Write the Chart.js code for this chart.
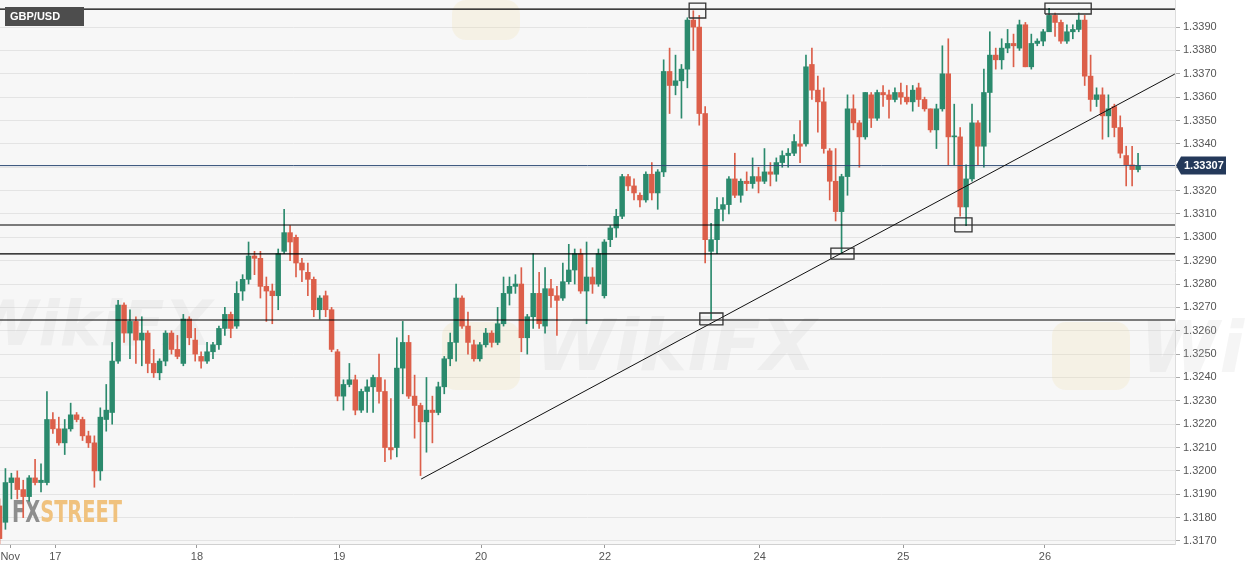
<!DOCTYPE html>
<html>
<head>
<meta charset="utf-8">
<script src="https://cdn.jsdelivr.net/npm/chart.js@4.4.0/dist/chart.umd.min.js"></script>
<style>
  html, body { margin: 0; padding: 0; background: #ffffff; }
  #wrap { width: 1245px; height: 568px; position: relative; }
</style>
</head>
<body>
<div id="wrap"><canvas id="chart"></canvas></div>
<script>
// GBP/USD hourly candles, Nov 16 - Nov 26
const opens = [
  1.3185,1.3178,1.3195,1.3197,1.3192,1.3189,1.3197,1.3195,1.3195,1.3222,
  1.3218,1.3212,1.3218,1.3224,1.3222,1.3215,1.3212,1.3200,1.3222,1.3225,
  1.3247,1.3271,1.3259,1.3264,1.3256,1.3259,1.3246,1.3242,1.3247,1.3259,
  1.3252,1.3246,1.3265,1.3256,1.3249,1.3247,1.3251,1.3254,1.3261,1.3267,
  1.3262,1.3277,1.3282,1.3292,1.3291,1.3279,1.3277,1.3275,1.3294,1.3302,
  1.3300,1.3289,1.3285,1.3282,1.3269,1.3275,1.3269,1.3251,1.3232,1.3237,
  1.3239,1.3226,1.3234,1.3236,1.3240,1.3234,1.3210,1.3210,1.3244,1.3255,
  1.3232,1.3228,1.3221,1.3226,1.3225,1.3236,1.3248,1.3255,1.3274,1.3262,
  1.3254,1.3248,1.3254,1.3259,1.3255,1.3263,1.3276,1.3279,1.3280,1.3257,
  1.3266,1.3276,1.3262,1.3278,1.3275,1.3274,1.3281,1.3286,1.3293,1.3277,
  1.3283,1.3280,1.3275,1.3299,1.3304,1.3309,1.3326,1.3322,1.3318,1.3316,
  1.3327,1.3319,1.3328,1.3371,1.3365,1.3367,1.3372,1.3393,1.3390,1.3353,
  1.3294,1.3299,1.3312,1.3314,1.3325,1.3318,1.3324,1.3323,1.3326,1.3324,
  1.3328,1.3327,1.3332,1.3335,1.3336,1.3340,1.3340,1.3374,1.3363,1.3358,
  1.3337,1.3324,1.3311,1.3326,1.3355,1.3349,1.3343,1.3361,1.3351,1.3362,
  1.3361,1.3359,1.3362,1.3360,1.3358,1.3364,1.3359,1.3355,1.3346,1.3355,
  1.3370,1.3343,1.3343,1.3313,1.3325,1.3349,1.3339,1.3362,1.3378,1.3376,
  1.3381,1.3383,1.3381,1.3391,1.3373,1.3383,1.3384,1.3388,1.3395,1.3392,
  1.3384,1.3388,1.3389,1.3393,1.3369,1.3359,1.3361,1.3352,1.3356,1.3347,
  1.3335,1.3331,1.3329
];
const highs = [
  1.3188,1.3201,1.3199,1.3200,1.3196,1.3198,1.3205,1.3203,1.3234,1.3225,
  1.3223,1.3222,1.3229,1.3225,1.3223,1.3217,1.3215,1.3227,1.3237,1.3255,
  1.3273,1.3272,1.3269,1.3266,1.3266,1.3260,1.3252,1.3248,1.3260,1.3260,
  1.3258,1.3267,1.3266,1.3261,1.3251,1.3255,1.3255,1.3262,1.3270,1.3268,
  1.3281,1.3284,1.3298,1.3294,1.3294,1.3283,1.3280,1.3295,1.3312,1.3305,
  1.3301,1.3291,1.3289,1.3283,1.3275,1.3277,1.3270,1.3252,1.3239,1.3246,
  1.3241,1.3235,1.3239,1.3241,1.3250,1.3239,1.3231,1.3257,1.3264,1.3258,
  1.3241,1.3229,1.3240,1.3232,1.3238,1.3249,1.3259,1.3280,1.3275,1.3268,
  1.3256,1.3255,1.3261,1.3260,1.3270,1.3283,1.3283,1.3284,1.3287,1.3267,
  1.3293,1.3285,1.3287,1.3282,1.3279,1.3289,1.3297,1.3295,1.3295,1.3298,
  1.3287,1.3295,1.3299,1.3305,1.3312,1.3327,1.3327,1.3325,1.3319,1.3328,
  1.3332,1.3329,1.3376,1.3381,1.3378,1.3374,1.3394,1.3397,1.3395,1.3356,
  1.3306,1.3317,1.3317,1.3326,1.3336,1.3325,1.3328,1.3334,1.3330,1.3338,
  1.3332,1.3334,1.3337,1.3338,1.3344,1.3350,1.3378,1.3381,1.3369,1.3364,
  1.3338,1.3338,1.3327,1.3361,1.3361,1.3350,1.3362,1.3362,1.3363,1.3365,
  1.3363,1.3364,1.3366,1.3365,1.3365,1.3366,1.3360,1.3355,1.3357,1.3382,
  1.3385,1.3357,1.3347,1.3331,1.3357,1.3350,1.3372,1.3388,1.3381,1.3385,
  1.3389,1.3387,1.3393,1.3392,1.3387,1.3385,1.3389,1.3398,1.3396,1.3393,
  1.3391,1.3391,1.3396,1.3395,1.3378,1.3364,1.3364,1.3361,1.3357,1.3352,
  1.3339,1.3339,1.3336
];
const lows = [
  1.3168,1.3175,1.3188,1.3188,1.3180,1.3187,1.3194,1.3191,1.3194,1.3216,
  1.3211,1.3207,1.3217,1.3221,1.3213,1.3210,1.3193,1.3196,1.3217,1.3220,
  1.3246,1.3255,1.3248,1.3246,1.3245,1.3242,1.3240,1.3239,1.3245,1.3250,
  1.3248,1.3245,1.3254,1.3247,1.3244,1.3246,1.3248,1.3252,1.3258,1.3257,
  1.3261,1.3273,1.3280,1.3284,1.3274,1.3264,1.3263,1.3269,1.3293,1.3290,
  1.3283,1.3281,1.3275,1.3266,1.3265,1.3266,1.3251,1.3230,1.3226,1.3236,
  1.3224,1.3225,1.3225,1.3225,1.3229,1.3204,1.3205,1.3206,1.3233,1.3231,
  1.3214,1.3198,1.3208,1.3212,1.3224,1.3233,1.3245,1.3247,1.3261,1.3250,
  1.3247,1.3247,1.3253,1.3253,1.3254,1.3262,1.3271,1.3276,1.3251,1.3250,
  1.3261,1.3261,1.3259,1.3270,1.3258,1.3273,1.3280,1.3280,1.3276,1.3263,
  1.3276,1.3279,1.3274,1.3296,1.3300,1.3308,1.3320,1.3316,1.3313,1.3315,
  1.3316,1.3312,1.3326,1.3353,1.3361,1.3351,1.3364,1.3380,1.3348,1.3289,
  1.3265,1.3293,1.3307,1.3310,1.3317,1.3315,1.3320,1.3321,1.3319,1.3323,
  1.3322,1.3324,1.3330,1.3330,1.3335,1.3332,1.3339,1.3359,1.3345,1.3336,
  1.3316,1.3307,1.3293,1.3318,1.3346,1.3330,1.3342,1.3347,1.3350,1.3356,
  1.3351,1.3358,1.3357,1.3357,1.3354,1.3356,1.3354,1.3345,1.3338,1.3354,
  1.3331,1.3331,1.3309,1.3305,1.3324,1.3331,1.3330,1.3345,1.3372,1.3372,
  1.3379,1.3373,1.3380,1.3373,1.3372,1.3382,1.3382,1.3388,1.3386,1.3383,
  1.3383,1.3385,1.3388,1.3365,1.3354,1.3356,1.3342,1.3343,1.3343,1.3334,
  1.3322,1.3322,1.3328
];
const closes = [
  1.3171,1.3195,1.3197,1.3192,1.3189,1.3197,1.3195,1.3196,1.3222,1.3218,
  1.3212,1.3218,1.3224,1.3222,1.3215,1.3212,1.3200,1.3223,1.3226,1.3247,
  1.3271,1.3259,1.3264,1.3256,1.3259,1.3246,1.3242,1.3247,1.3259,1.3252,
  1.3249,1.3265,1.3257,1.3250,1.3247,1.3251,1.3254,1.3261,1.3267,1.3261,
  1.3276,1.3282,1.3292,1.3291,1.3279,1.3277,1.3275,1.3293,1.3302,1.3298,
  1.3289,1.3286,1.3282,1.3269,1.3274,1.3269,1.3252,1.3232,1.3237,1.3239,
  1.3226,1.3234,1.3236,1.3240,1.3234,1.3210,1.3209,1.3244,1.3255,1.3232,
  1.3228,1.3221,1.3226,1.3225,1.3236,1.3248,1.3255,1.3274,1.3262,1.3255,
  1.3248,1.3254,1.3259,1.3255,1.3263,1.3276,1.3279,1.3280,1.3257,1.3266,
  1.3276,1.3263,1.3278,1.3275,1.3273,1.3281,1.3286,1.3293,1.3277,1.3283,
  1.3280,1.3293,1.3298,1.3304,1.3309,1.3326,1.3322,1.3319,1.3316,1.3327,
  1.3319,1.3328,1.3371,1.3365,1.3367,1.3372,1.3393,1.3390,1.3353,1.3299,
  1.3299,1.3312,1.3314,1.3325,1.3318,1.3324,1.3323,1.3326,1.3324,1.3328,
  1.3327,1.3332,1.3335,1.3336,1.3341,1.3339,1.3373,1.3363,1.3358,1.3338,
  1.3324,1.3311,1.3326,1.3355,1.3349,1.3343,1.3362,1.3351,1.3362,1.3361,
  1.3359,1.3362,1.3360,1.3358,1.3363,1.3359,1.3355,1.3346,1.3355,1.3370,
  1.3343,1.3343,1.3313,1.3325,1.3349,1.3339,1.3362,1.3378,1.3376,1.3381,
  1.3383,1.3382,1.3391,1.3373,1.3383,1.3384,1.3388,1.3395,1.3392,1.3384,
  1.3388,1.3389,1.3393,1.3369,1.3359,1.3361,1.3352,1.3355,1.3347,1.3336,
  1.3331,1.3329,1.33307
];

// x-axis: candle index where each day label sits
const dayTickPos = [1.8, 9.4, 33.3, 57.3, 81.2, 102.1, 128.2, 152.4, 176.3];
const dayLabels = ["Nov", "17", "18", "19", "20", "22", "24", "25", "26"];
const priceTicks = [
  1.3170, 1.3180, 1.3190, 1.3200, 1.3210, 1.3220, 1.3230, 1.3240, 1.3250, 1.3260, 1.3270, 1.3280,
  1.3290, 1.3300, 1.3310, 1.3320, 1.3330, 1.3340, 1.3350, 1.3360, 1.3370, 1.3380, 1.3390
];

// drawn studies
const levels = [1.33977, 1.33053, 1.32929, 1.32646];
const lastPrice = 1.33307;
const trendFrom = [71.1, 1.31965];
const trendTo = [198.2, 1.33699];
// [fromIndex, toIndex, lowPrice, highPrice]
const boxes = [
  [116.3, 119.1, 1.33939, 1.34003],
  [118.1, 122.0, 1.32625, 1.32676],
  [140.2, 144.1, 1.32907, 1.32954],
  [161.1, 164.0, 1.33023, 1.33083],
  [176.3, 184.1, 1.33956, 1.34003]
];

const X_MIN = 0.084, X_MAX = 198.23;
const Y_MIN = 1.31687, Y_MAX = 1.34016;
const UP = '#2b8a6d', DOWN = '#dc5f4a';

const colors = closes.map((c, i) => c >= opens[i] ? UP : DOWN);

const datasets = [];
datasets.push({
  type: 'bar',
  data: lows.map((l, i) => ({ x: i, y: [l, highs[i]] })),
  backgroundColor: colors,
  barThickness: 1,
  grouped: false,
  order: 5
});
datasets.push({
  type: 'bar',
  data: opens.map((o, i) => ({ x: i, y: [o, closes[i]] })),
  backgroundColor: colors,
  barThickness: 4.8,
  minBarLength: 1,
  grouped: false,
  order: 4
});
levels.forEach(lv => {
  datasets.push({
    type: 'line',
    data: [{ x: X_MIN, y: lv }, { x: X_MAX, y: lv }],
    borderColor: '#000000',
    borderWidth: 1.1,
    pointRadius: 0,
    order: 2
  });
});
datasets.push({
  type: 'line',
  data: [{ x: X_MIN, y: lastPrice }, { x: X_MAX, y: lastPrice }],
  borderColor: '#2e4a74',
  borderWidth: 1,
  pointRadius: 0,
  order: 2
});
datasets.push({
  type: 'line',
  data: [{ x: trendFrom[0], y: trendFrom[1] }, { x: trendTo[0], y: trendTo[1] }],
  borderColor: '#111111',
  borderWidth: 1,
  pointRadius: 0,
  order: 1
});
boxes.forEach(b => {
  datasets.push({
    type: 'line',
    data: [
      { x: b[0], y: b[2] }, { x: b[1], y: b[2] }, { x: b[1], y: b[3] },
      { x: b[0], y: b[3] }, { x: b[0], y: b[2] }
    ],
    borderColor: '#333333',
    borderWidth: 1.3,
    pointRadius: 0,
    fill: false,
    order: 0
  });
});

const backdrop = {
  id: 'backdrop',
  beforeDraw(chart) {
    const { ctx, chartArea: a } = chart;
    ctx.save();
    ctx.fillStyle = '#f7f7f7';
    ctx.fillRect(a.left, a.top, a.right - a.left, a.bottom - a.top);
    ctx.restore();
  },
  beforeDatasetsDraw(chart) {
    const { ctx } = chart;
    ctx.save();
    // faint watermarks
    ctx.fillStyle = 'rgba(190,190,190,0.16)';
    ctx.font = 'italic bold 62px "DejaVu Sans"';
    ctx.fillText('WikiFX', -30, 345);
    ctx.font = 'italic bold 72px "DejaVu Sans"';
    ctx.fillText('WikiFX', 535, 370);
    ctx.fillText('Wiki', 1140, 372);
    ctx.fillStyle = 'rgba(240,215,150,0.18)';
    [[452, 0, 68, 40], [442, 322, 78, 68], [1052, 322, 78, 68]].forEach(r => {
      ctx.beginPath();
      ctx.roundRect(r[0], r[1], r[2], r[3], 14);
      ctx.fill();
    });
    // FXSTREET logo
    ctx.font = 'bold 31px "DejaVu Sans Condensed", "DejaVu Sans"';
    const w1 = ctx.measureText('FX').width;
    const w2 = ctx.measureText('STREET').width;
    const s = 110 / (w1 + w2);
    ctx.translate(12, 522);
    ctx.scale(s, 1);
    ctx.fillStyle = '#8e8e8e';
    ctx.fillText('FX', 0, 0);
    ctx.fillStyle = '#f0c27e';
    ctx.fillText('STREET', w1, 0);
    ctx.restore();
  },
  afterDraw(chart) {
    const { ctx, chartArea: a, scales } = chart;
    ctx.save();
    // symbol tag
    ctx.fillStyle = '#4d4d4d';
    ctx.fillRect(5, 7, 79, 19);
    ctx.fillStyle = '#ffffff';
    ctx.font = 'bold 11px "Liberation Sans", Arial';
    ctx.textBaseline = 'middle';
    ctx.fillText('GBP/USD', 10, 17);
    // last price tag
    const py = scales.y.getPixelForValue(lastPrice);
    const x0 = a.right + 1;
    ctx.fillStyle = '#24395a';
    ctx.beginPath();
    ctx.moveTo(x0, py);
    ctx.lineTo(x0 + 5, py - 9);
    ctx.lineTo(x0 + 50, py - 9);
    ctx.lineTo(x0 + 50, py + 9);
    ctx.lineTo(x0 + 5, py + 9);
    ctx.closePath();
    ctx.fill();
    ctx.fillStyle = '#ffffff';
    ctx.font = 'bold 11px "Liberation Sans", Arial';
    ctx.fillText(lastPrice.toFixed(5), x0 + 8, py + 0.5);
    ctx.restore();
  }
};

new Chart(document.getElementById('chart'), {
  type: 'bar',
  data: { datasets: datasets },
  options: {
    responsive: true,
    maintainAspectRatio: false,
    animation: false,
    layout: { padding: 0 },
    plugins: { legend: { display: false }, tooltip: { enabled: false } },
    scales: {
      x: {
        type: 'linear',
        min: X_MIN,
        max: X_MAX,
        offset: false,
        afterBuildTicks: s => { s.ticks = dayTickPos.map(v => ({ value: v })); },
        afterFit: s => { s.height = 24; s.paddingLeft = 0; s.paddingRight = 0; },
        grid: { offset: false, drawOnChartArea: false, drawTicks: true, tickLength: 4, color: '#999999' },
        border: { display: true, color: '#d0d0d0' },
        ticks: {
          color: '#555555',
          font: { family: '"Liberation Sans", Arial', size: 11 },
          maxRotation: 0,
          autoSkip: false,
          padding: 2,
          callback: (v, i) => dayLabels[i]
        }
      },
      y: {
        position: 'right',
        min: Y_MIN,
        max: Y_MAX,
        afterBuildTicks: s => { s.ticks = priceTicks.map(v => ({ value: v })); },
        afterFit: s => { s.width = 70; s.paddingTop = 0; s.paddingBottom = 0; },
        grid: { color: '#e4e4e4', tickLength: 5, tickColor: '#aaaaaa' },
        border: { display: true, color: '#dddddd' },
        ticks: {
          color: '#555555',
          font: { family: '"Liberation Sans", Arial', size: 11 },
          padding: 3,
          callback: v => v.toFixed(4)
        }
      }
    }
  },
  plugins: [backdrop]
});
</script>
</body>
</html>
